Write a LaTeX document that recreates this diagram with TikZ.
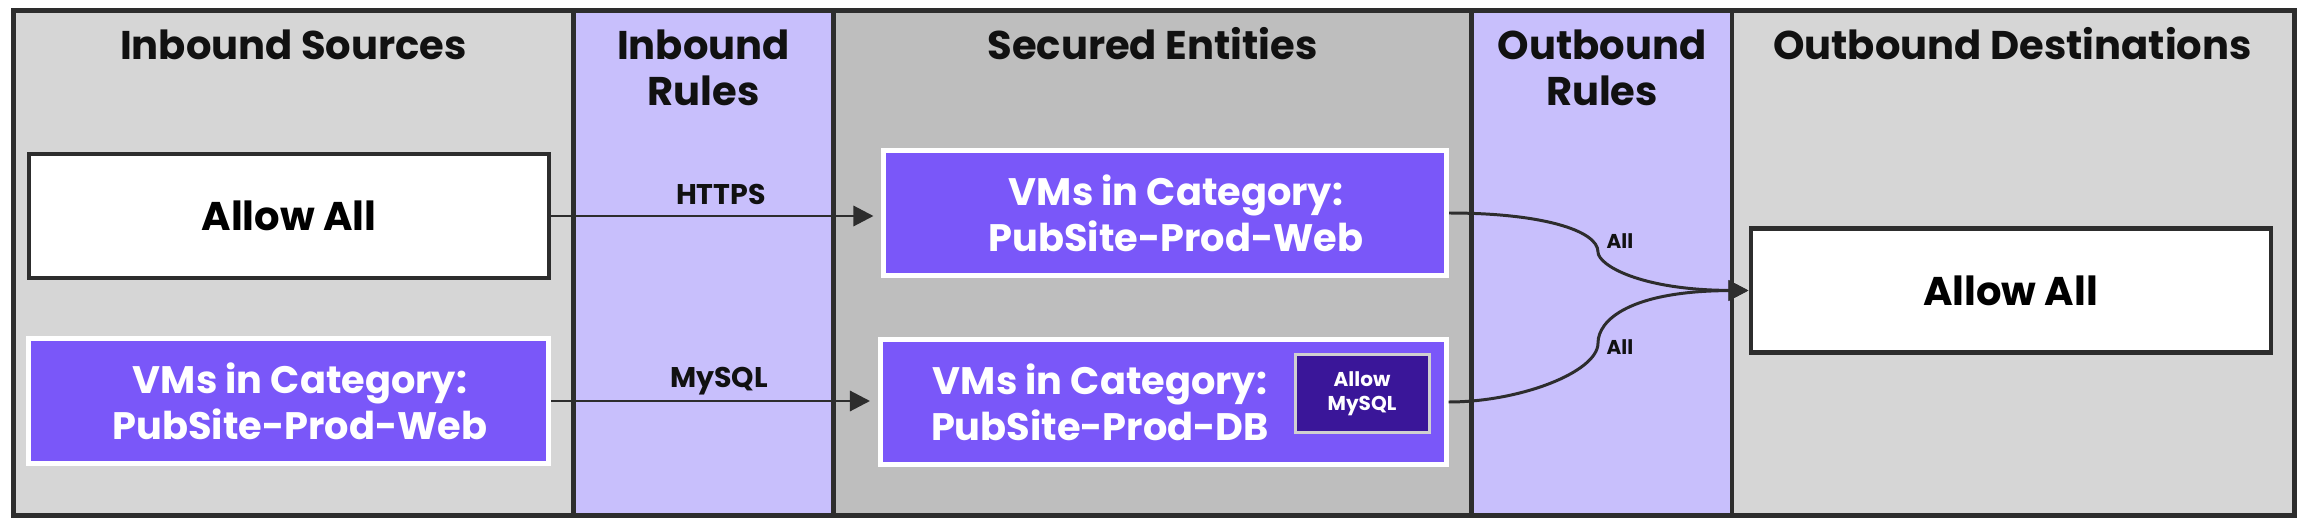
\documentclass[tikz,border=0pt]{standalone}
\usepackage{fontspec}
\setmainfont{Poppins}
\usetikzlibrary{arrows.meta}

\definecolor{edgegray}{HTML}{2D2D2D}
\definecolor{srcgray}{HTML}{D6D6D6}
\definecolor{securegray}{HTML}{BEBEBE}
\definecolor{rulelav}{HTML}{C8BFFC}
\definecolor{vmpurple}{HTML}{7A57F9}
\definecolor{deeppurple}{HTML}{3A1699}
\definecolor{rulegray}{HTML}{D0D0D0}
\definecolor{titleblack}{HTML}{111111}

\begin{document}
\begin{tikzpicture}[x=0.1mm, y=-0.1mm]
\tikzset{zonebox/.style={draw=edgegray, line width=1.28pt},
  zonetitle/.style={font=\fontsize{11.4}{13.1}\selectfont\bfseries, text=titleblack, align=center, inner sep=0pt},
  allowbox/.style={draw=edgegray, fill=white, line width=1.14pt, minimum width=52mm, minimum height=12.4mm, inner sep=0pt, font=\fontsize{11.4}{13.1}\selectfont\bfseries},
  vmbox/.style={draw=white, fill=vmpurple, line width=1.42pt, inner sep=0pt},
  vmtext/.style={text=white, align=center, inner sep=0pt, font=\fontsize{10.9}{13.1}\selectfont\bfseries},
  rulebox/.style={draw=rulegray, fill=deeppurple, line width=0.85pt, minimum width=13.4mm, minimum height=7.8mm, inner sep=0pt, text=white, align=center, font=\fontsize{5.7}{6.7}\selectfont\bfseries},
  flow/.style={draw=edgegray, line width=0.85pt, -{Triangle[length=5.7pt, width=5.7pt]}},
  flowlabel/.style={font=\fontsize{8.1}{9}\selectfont\bfseries, text=titleblack, inner sep=0pt},
  alllabel/.style={font=\fontsize{5.7}{6.7}\selectfont\bfseries, text=titleblack, inner sep=0pt}}
\useasboundingbox (0,0) rectangle (2302,528);
% columns
\fill[srcgray] (13.5,10.5) rectangle (573.5,515.5);
\fill[rulelav] (573.5,10.5) rectangle (833.5,515.5);
\fill[securegray] (833.5,10.5) rectangle (1471.5,515.5);
\fill[rulelav] (1471.5,10.5) rectangle (1732,515.5);
\fill[srcgray] (1732,10.5) rectangle (2294.5,515.5);
\draw[zonebox] (13.5,10.5) rectangle (2294.5,515.5);
\draw[zonebox] (573.5,10.5) -- (573.5,515.5);
\draw[zonebox] (833.5,10.5) -- (833.5,515.5);
\draw[zonebox] (1471.5,10.5) -- (1471.5,515.5);
\draw[zonebox] (1732,10.5) -- (1732,515.5);
\node[zonetitle, anchor=base] (tsources) at (293.5,60) {Inbound Sources};
\node[zonetitle] (tinrules) at (703.5,68) {Inbound\\Rules};
\node[zonetitle, anchor=base] (tsecured) at (1152.5,60) {Secured Entities};
\node[zonetitle] (toutrules) at (1602,68) {Outbound\\Rules};
\node[zonetitle, anchor=base] (tdest) at (2012.5,60) {Outbound Destinations};
% boxes
\node[allowbox] (srcall) at (289,216) {Allow All};
\node[vmbox, minimum width=52mm, minimum height=12.5mm] (srcweb) at (288.5,401) {};
\node[vmtext] (srcwebtext) at (300,401) {VMs in Category:\\PubSite-Prod-Web};
\node[vmbox, minimum width=56.3mm, minimum height=12.45mm] (secweb) at (1165,213) {};
\node[vmtext] (secwebtext) at (1176,213) {VMs in Category:\\PubSite-Prod-Web};
\node[vmbox, minimum width=56.6mm, minimum height=12.55mm] (secdb) at (1163,402) {};
\node[vmtext] (secdbtext) at (1100,402) {VMs in Category:\\PubSite-Prod-DB};
\node[rulebox] (mysqlrule) at (1362,393.5) {Allow\\MySQL};
\node[allowbox] (dstall) at (2010.5,290.5) {Allow All};
% inbound
\draw[flow, shorten >=0.75mm] (srcall.east) -- (srcall.east -| secweb.west)
  node[flowlabel, pos=0.515, anchor=base, yshift=3.3pt] (lblhttps) {HTTPS};
\draw[flow, shorten >=0.75mm] (srcweb.east) -- (srcweb.east -| secdb.west)
  node[flowlabel, pos=0.515, anchor=base, yshift=3.8pt] (lblmysql) {MySQL};
% outbound
\draw[flow] (secweb.east) .. controls (1540,213) and (1598,230) .. (1598,252)
  .. controls (1598,265) and (1640,290) .. (dstall.west);
\draw[flow] (secdb.east) .. controls (1520,402) and (1598,372) .. (1598,343)
  .. controls (1598,320) and (1630,291) .. (dstall.west);
\node[alllabel, anchor=base west] (lblallweb) at (1606,249) {All};
\node[alllabel, anchor=base west] (lblalldb) at (1606,354) {All};
\end{tikzpicture}
\end{document}
